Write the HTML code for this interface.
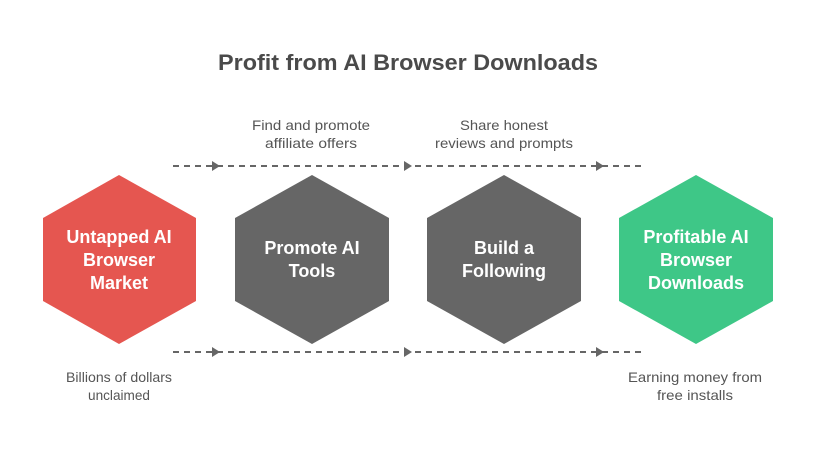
<!DOCTYPE html>
<html><head><meta charset="utf-8"><style>
html,body{margin:0;padding:0;background:#fff;}
svg{display:block;}
text{font-family:"Liberation Sans",sans-serif;}
</style></head><body>
<svg width="816" height="459" viewBox="0 0 816 459" xmlns="http://www.w3.org/2000/svg">
<text x="408" y="70" text-anchor="middle" font-size="22" font-weight="bold" fill="#4a4a4a" textLength="380" lengthAdjust="spacingAndGlyphs">Profit from AI Browser Downloads</text>

<g fill="#555" font-size="14" text-anchor="middle">
<text x="311" y="130" textLength="118" lengthAdjust="spacingAndGlyphs">Find and promote</text>
<text x="311" y="148" textLength="92" lengthAdjust="spacingAndGlyphs">affiliate offers</text>
<text x="504" y="130" textLength="88" lengthAdjust="spacingAndGlyphs">Share honest</text>
<text x="504" y="148" textLength="138" lengthAdjust="spacingAndGlyphs">reviews and prompts</text>
<text x="119" y="382" textLength="106" lengthAdjust="spacingAndGlyphs">Billions of dollars</text>
<text x="119" y="400" textLength="62" lengthAdjust="spacingAndGlyphs">unclaimed</text>
<text x="695" y="382" textLength="134" lengthAdjust="spacingAndGlyphs">Earning money from</text>
<text x="695" y="400" textLength="76" lengthAdjust="spacingAndGlyphs">free installs</text>
</g>

<g stroke="#666" stroke-width="2" stroke-dasharray="6,5" fill="none">
<line x1="173" y1="166" x2="643" y2="166"/>
<line x1="173" y1="352" x2="643" y2="352"/>
</g>
<g fill="#666">
<polygon points="212,161 220,166 212,171"/>
<polygon points="404,161 412,166 404,171"/>
<polygon points="596,161 604,166 596,171"/>
<polygon points="212,347 220,352 212,357"/>
<polygon points="404,347 412,352 404,357"/>
<polygon points="596,347 604,352 596,357"/>
</g>

<polygon points="119,175 196,218 196,301 119,344 43,301 43,218" fill="#e55650"/>
<polygon points="312,175 389,218 389,301 312,344 235,301 235,218" fill="#666666"/>
<polygon points="504,175 581,218 581,301 504,344 427,301 427,218" fill="#666666"/>
<polygon points="696,175 773,218 773,301 696,344 619,301 619,218" fill="#3ec787"/>

<g fill="#fff" font-size="18" font-weight="bold" text-anchor="middle">
<text x="119" y="243">Untapped AI</text>
<text x="119" y="266">Browser</text>
<text x="119" y="289">Market</text>
<text x="312" y="254">Promote AI</text>
<text x="312" y="277">Tools</text>
<text x="504" y="254">Build a</text>
<text x="504" y="277">Following</text>
<text x="696" y="243">Profitable AI</text>
<text x="696" y="266">Browser</text>
<text x="696" y="289">Downloads</text>
</g>
</svg>
</body></html>
